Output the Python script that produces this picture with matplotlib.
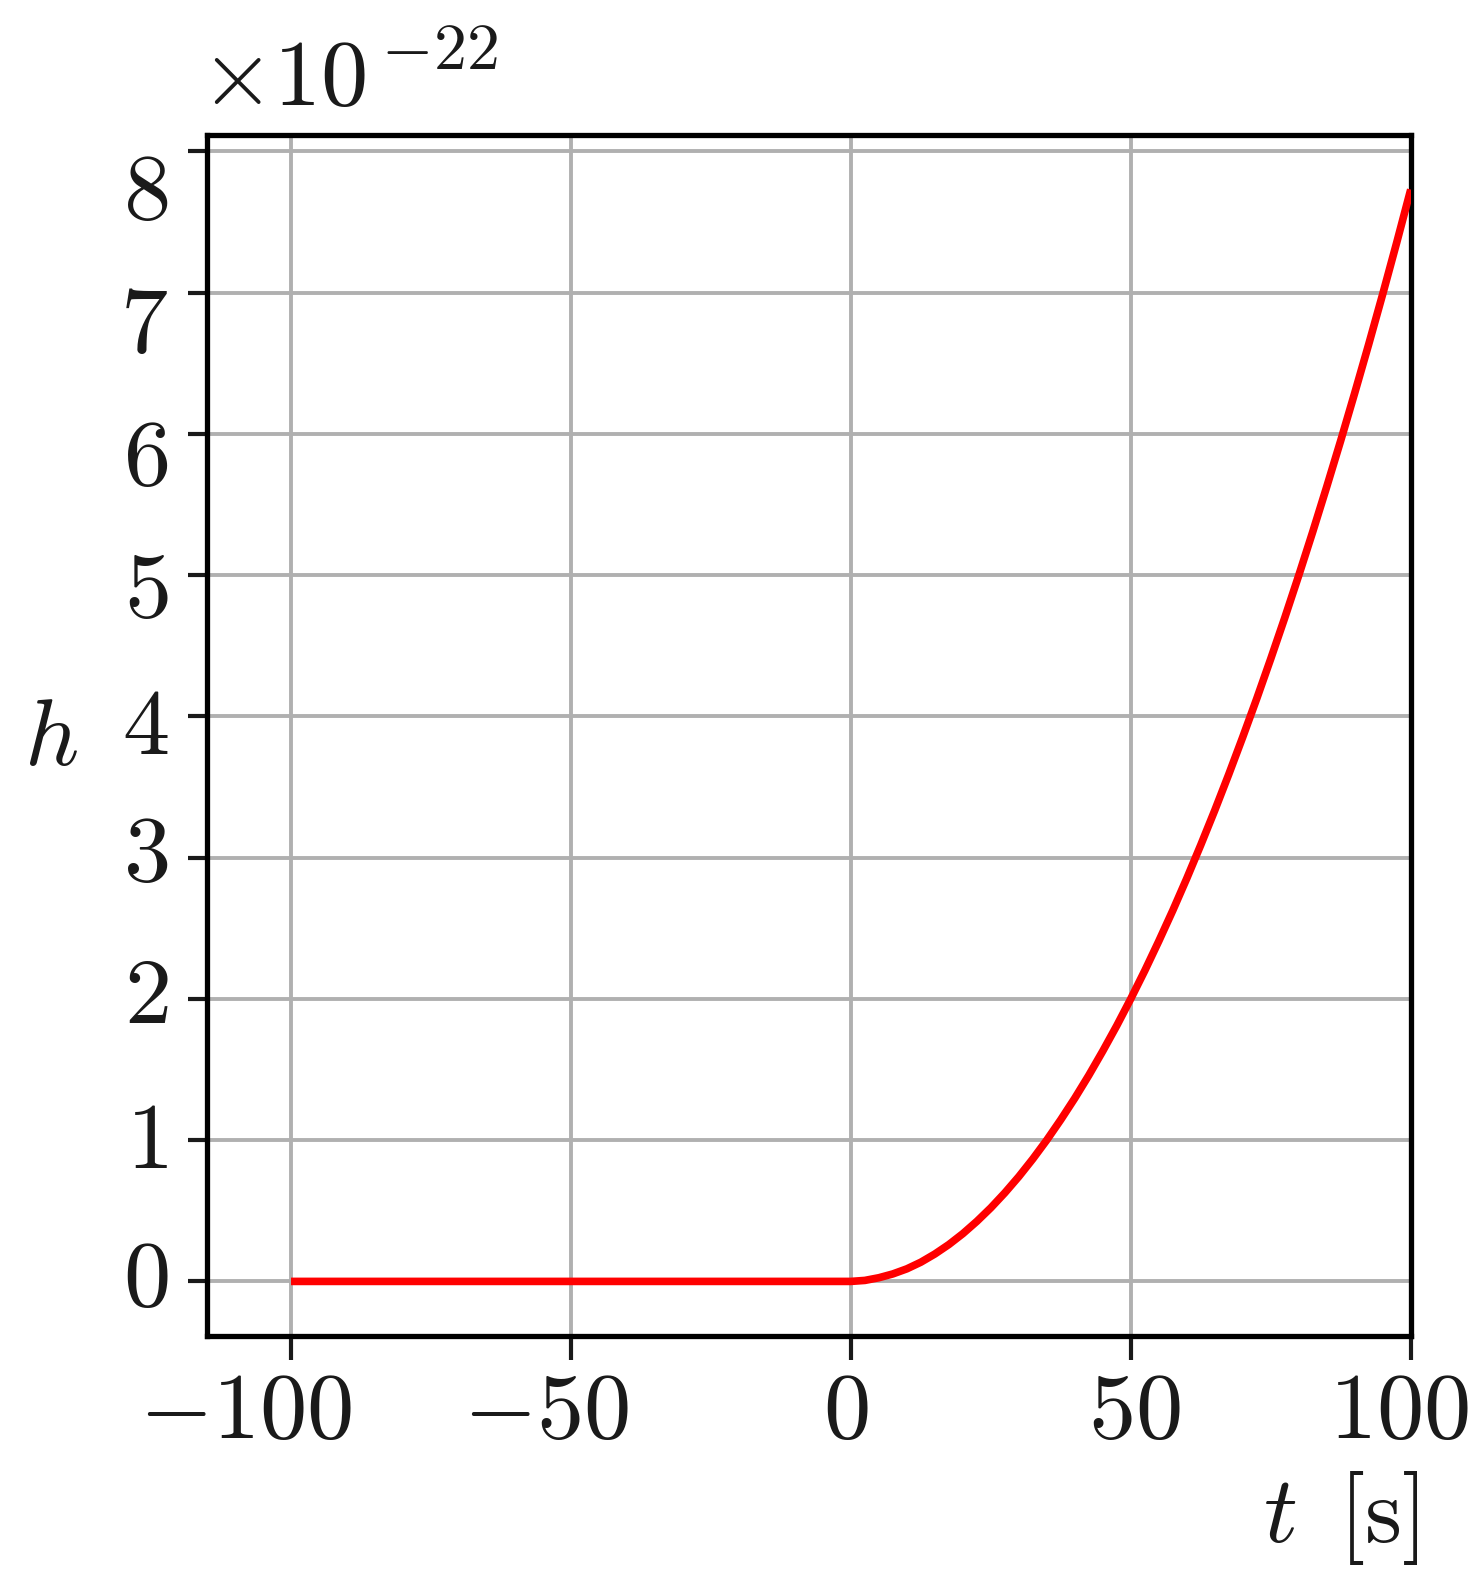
import numpy as np
import matplotlib
matplotlib.use("Agg")
import matplotlib.pyplot as plt
from matplotlib.transforms import ScaledTranslation

# Data (h in units of 1e-22)
t_vals = [-100, -75, -50, -25, 0, 2.5, 5, 7.5, 10, 12.5, 15, 17.5, 20, 22.5,
          25, 27.5, 30, 32.5, 35, 37.5, 40, 42.5, 45, 47.5, 50, 52.5, 55,
          57.5, 60, 62.5, 65, 67.5, 70, 72.5, 75, 77.5, 80, 82.5, 85, 87.5,
          90, 92.5, 95, 97.5, 100]
h_vals = [0.0, 0.0, 0.0, 0.0, 0.0, 0.007, 0.026, 0.053, 0.089, 0.136, 0.194,
          0.261, 0.338, 0.425, 0.521, 0.627, 0.742, 0.867, 1.001, 1.145,
          1.297, 1.459, 1.631, 1.811, 2.001, 2.200, 2.409, 2.626, 2.853,
          3.090, 3.335, 3.590, 3.854, 4.126, 4.408, 4.698, 4.998, 5.307,
          5.626, 5.953, 6.290, 6.635, 6.990, 7.355, 7.730]
h_scale = 1e-22
xticks = [-100, -50, 0, 50, 100]
yticks = [0, 1, 2, 3, 4, 5, 6, 7, 8]

plt.rcParams['mathtext.fontset'] = 'cm'
plt.rcParams['font.family'] = 'serif'
plt.rcParams['font.serif'] = ['cmr10', 'DejaVu Serif']
plt.rcParams['axes.formatter.use_mathtext'] = True
plt.rcParams['axes.unicode_minus'] = True

fs = 68
tc = '#1a1a1a'
DPI = 100
fig = plt.figure(figsize=(14.82, 15.82), dpi=DPI)
ax = fig.add_axes([0.1397, 0.1555, 0.9519 - 0.1397, 0.9147 - 0.1555])

ax.plot(t_vals, np.array(h_vals) * h_scale, color='red', lw=5.5, zorder=3,
        solid_capstyle='butt')

ax.set_xlim(-115, 100)
ax.set_xticks(xticks)
ax.set_yticks(np.array(yticks) * h_scale)
ax.grid(True, color='#b0b0b0', lw=2.8)
ax.set_axisbelow(True)
for s in ax.spines.values():
    s.set_linewidth(3.8)
    s.set_color('black')
ax.tick_params(direction='out', length=14, width=3, labelsize=fs, pad=14,
               colors=tc)
ax.tick_params(axis='x', length=17, pad=10)
ax.yaxis.get_offset_text().set_visible(False)
ax.text(-0.006, 1.024, r'$\times10^{\,{-}22}$', transform=ax.transAxes,
        fontsize=fs, color=tc, ha='left', va='baseline')

# small placement shifts of the tick labels as seen in the reference (px)
x_shift = [-45, -25, -5, 4, -12]
y_shift = [-1, -4, -1, 0, -14, -18, -28, -36, -44]
fig.canvas.draw()
for lbl, dx in zip(ax.get_xticklabels(), x_shift):
    lbl.set_transform(lbl.get_transform() +
                      ScaledTranslation(dx / DPI, 0, fig.dpi_scale_trans))
for lbl, dy in zip(ax.get_yticklabels(), y_shift):
    lbl.set_va('center')
    lbl.set_transform(lbl.get_transform() +
                      ScaledTranslation(0, dy / DPI, fig.dpi_scale_trans))

ax.set_ylabel(r'$h$', fontsize=fs, rotation=0, color=tc, va='center')
ax.yaxis.set_label_coords(-0.13, 0.495)
ax.set_xlabel(r'$t\ \,[\mathrm{s}]$', fontsize=fs, color=tc, ha='right')
ax.xaxis.set_label_coords(1.007, -0.111)

fig.savefig('out.png', dpi=DPI)
